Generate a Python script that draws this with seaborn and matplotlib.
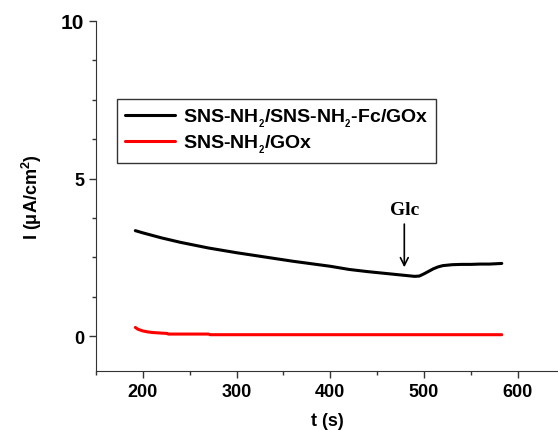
import pandas as pd
import matplotlib
matplotlib.use('Agg')
import matplotlib.pyplot as plt
import seaborn as sns
from matplotlib.ticker import MultipleLocator

# values
t_black = [192, 200, 210, 220, 230, 240, 250, 260, 270, 280, 290, 300, 320, 340, 360,
           380, 400, 420, 440, 460, 470, 480, 490, 495, 500, 505, 510, 515, 520, 530,
           540, 550, 560, 570, 583]
i_black = [3.35, 3.28, 3.2, 3.12, 3.05, 2.98, 2.92, 2.86, 2.8, 2.75, 2.7, 2.65, 2.56, 2.47, 2.38,
           2.3, 2.22, 2.12, 2.05, 1.99, 1.96, 1.93, 1.9, 1.91, 1.98, 2.06, 2.14, 2.2, 2.24, 2.27,
           2.28, 2.28, 2.29, 2.29, 2.31]
t_red = [192, 195, 200, 205, 210, 220, 226, 227, 270, 272, 583]
i_red = [0.28, 0.22, 0.17, 0.14, 0.12, 0.1, 0.09, 0.07, 0.07, 0.05, 0.05]

label_black = r'SNS-NH$_{_2}$/SNS-NH$_{_2}$-Fc/GOx'
label_red = r'SNS-NH$_{_2}$/GOx'

df = pd.concat([
    pd.DataFrame({'t': t_black, 'I': i_black, 'electrode': label_black}),
    pd.DataFrame({'t': t_red, 'I': i_red, 'electrode': label_red}),
])

sns.set_style('ticks')
plt.rcParams['font.family'] = ['Liberation Sans', 'DejaVu Sans']
plt.rcParams['font.weight'] = 'bold'
plt.rcParams['text.color'] = 'black'
plt.rcParams['axes.labelcolor'] = 'black'
plt.rcParams['mathtext.fontset'] = 'custom'
plt.rcParams['mathtext.rm'] = 'Liberation Sans:bold'
plt.rcParams['mathtext.bf'] = 'Liberation Sans:bold'
plt.rcParams['mathtext.default'] = 'bf'

fig = plt.figure(figsize=(5.58, 4.31), dpi=100)
ax = fig.add_axes([0.172, 0.137, 0.828, 0.812])

sns.lineplot(data=df, x='t', y='I', hue='electrode', sort=False,
             palette={label_black: 'black', label_red: 'red'},
             linewidth=2.2, ax=ax)

ax.set_xlim(150, 643)
ax.set_ylim(-1.1, 10)
ax.xaxis.set_major_locator(MultipleLocator(100))
ax.xaxis.set_minor_locator(MultipleLocator(50))
ax.yaxis.set_major_locator(MultipleLocator(5))
ax.yaxis.set_minor_locator(MultipleLocator(1.25))
ax.tick_params(which='major', length=5, width=1, labelsize=13, color='#333333',
               labelcolor='black')
ax.tick_params(which='minor', length=3, width=1, color='#333333')
ax.set_xticks([200, 300, 400, 500, 600])
ax.set_xticklabels(['200', '300', '400', '500', '600'], fontweight='bold', fontsize=13)
ax.set_yticks([0, 5, 10])
ax.set_yticklabels(['0', '5', '10'], fontweight='bold', fontsize=13)
ax.get_yticklabels()[2].set_fontsize(15)

ax.spines['right'].set_visible(False)
ax.spines['top'].set_visible(False)
ax.spines['left'].set_color('#333333')
ax.spines['bottom'].set_color('#333333')

ax.set_xlabel('t (s)', fontsize=13, fontweight='bold', labelpad=9)
ax.set_ylabel(r'I ($\mathbf{\mu}$A/cm$^2$)', fontsize=13, fontweight='bold', labelpad=12)

ax.annotate('Glc', xy=(479, 2.1), xytext=(479, 3.75),
            ha='center', va='bottom', fontsize=14, fontweight='bold',
            family='Liberation Serif', color='black',
            arrowprops=dict(arrowstyle='->', color='black', lw=1.2))

leg = ax.legend(loc='upper left', bbox_to_anchor=(0.045, 0.777), borderaxespad=0,
                frameon=True, fancybox=False, edgecolor='black', fontsize=14,
                handlelength=2.6, handletextpad=0.4, borderpad=0.4, labelspacing=0.2)
leg.get_frame().set_linewidth(1)
for txt in leg.get_texts():
    txt.set_fontweight('bold')
    txt.set_color('black')

fig.savefig('out.png', dpi=100)
